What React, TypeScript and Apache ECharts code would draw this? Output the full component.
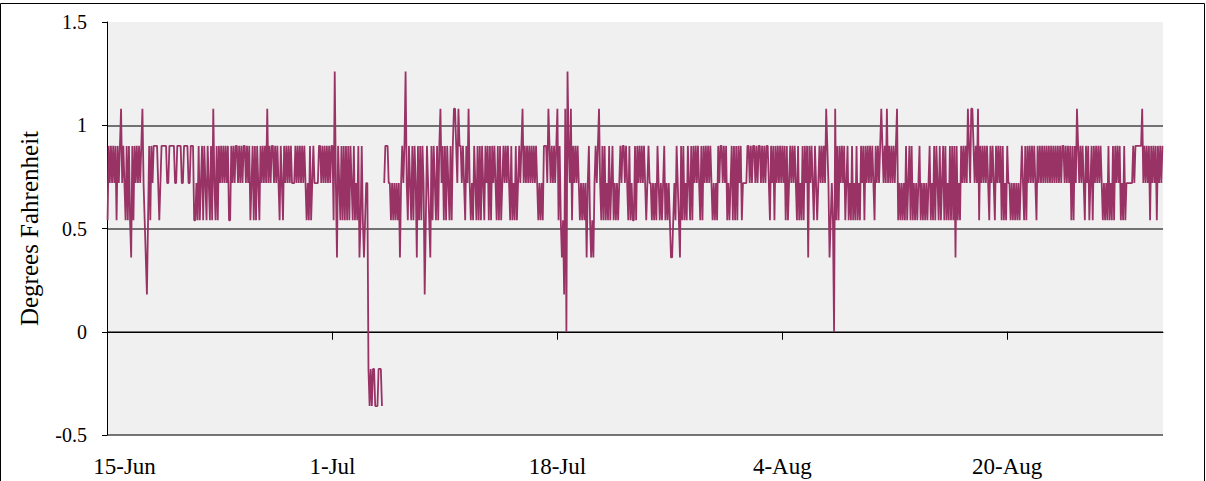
import React, { useEffect, useRef } from "react";
import * as echarts from "echarts";

// Temperature levels (°F) used by the sensor (0.1 °C steps); each code digit = index into this list
const levels = [-0.36, -0.18, 0, 0.18, 0.36, 0.54, 0.72, 0.9, 1.08, 1.26];

// Readings, one every 2 hours from 15-Jun 00:00, encoded as level indices ("-" = missing)
const seg01 = "5767676757" + "6786765757" + "5475767676" + "7865435757" + "6777765677" + "7776677777" + "6677776677" + "77667775";
const seg02 = "5657567576" + "5765758657" + "5767676767" + "5576767767" + "6767767675" + "6757576576" + "7676867677" + "67676576";
const seg03 = "5767676766" + "6767676767" + "6565756766" + "6677676767" + "6767759647" + "6575757575" + "7657565745" + "75456610";
const seg04 = "1011000111" + "0-67776656" + "5656564676" + "7965765757" + "6475757635" + "7654757657" + "5786757576" + "57578876";
const seg05 = "8776765768" + "6565765757" + "5765767575" + "7676575756" + "7676765756" + "5756767867" + "6767676767" + "65656577";
const seg06 = "7687676767" + "8575453829" + "7685767676" + "5656564675" + "4546767865" + "7575657567" + "5656567677" + "67657565";
const seg07 = "5757676767" + "6567665656" + "5765656756" + "5654456576" + "5475756576" + "5757676765" + "7576767676" + "56565767";
const seg08 = "7676756567" + "5757576756" + "6667767677" + "6767767676" + "7765767576" + "7676767575" + "6767676575" + "65757674";
const seg09 = "7676576567" + "6767687645" + "6528575767" + "6756756575" + "6575657675" + "7676767657" + "6767876768" + "67676767";
const seg10 = "8565656575" + "6757565656" + "7565656567" + "5657576575" + "6757565757" + "5747565767" + "6768768876" + "76857676";
const seg11 = "7676576765" + "7676757565" + "7665656565" + "6567657576" + "7676765767" + "6767676767" + "6767676767" + "76767675";
const seg12 = "7576876767" + "6576756757" + "6767676565" + "6575657576" + "7675657566" + "6666767777" + "7786767675" + "76767576767";

const segments = [seg01, seg02, seg03, seg04, seg05, seg06, seg07, seg08, seg09, seg10, seg11, seg12];

// Date tick labels, one every 200 samples (400 hours)
const tickLabels = ["15-Jun", "1-Jul", "18-Jul", "4-Aug", "20-Aug"];
const tickEvery = 200;
const tickIndices = [200, 400, 600, 800];

const monthNames = ["Jan", "Feb", "Mar", "Apr", "May", "Jun", "Jul", "Aug", "Sep", "Oct", "Nov", "Dec"];

const values: (number | null)[] = segments
  .join("")
  .split("")
  .map((c) => (c === "-" ? null : levels[Number(c)]));

const categories: string[] = values.map((_, i) => {
  const d = new Date(Date.UTC(2000, 5, 15) + i * 2 * 3600 * 1000);
  return `${d.getUTCDate()}-${monthNames[d.getUTCMonth()]} ${String(d.getUTCHours()).padStart(2, "0")}:00`;
});

const FONT = "'Liberation Serif', 'Times New Roman', serif";
const FS_X = 23;
const FS_Y = 20;
const FS_NAME = 25;

export default function App() {
  const ref = useRef<HTMLDivElement>(null);

  useEffect(() => {
    document.body.style.margin = "0";
    if (!ref.current) return;
    const chart = echarts.init(ref.current, undefined, { renderer: "svg" });
    chart.setOption({
      animation: false,
      backgroundColor: "#ffffff",
      grid: {
        left: 107,
        right: 43,
        top: 22,
        bottom: 46,
        show: true,
        backgroundColor: "#f0f0f0",
        borderWidth: 0,
      },
      graphic: [
        {
          type: "rect",
          silent: true,
          shape: { x: 0.5, y: 3.5, width: 1204, height: 520 },
          style: { fill: "none", stroke: "#000", lineWidth: 1 },
          z: -1,
        },
      ],
      xAxis: [
        {
          type: "category",
          data: categories,
          boundaryGap: true,
          axisLine: { show: true, onZero: true, lineStyle: { color: "#000", width: 1 } },
          axisTick: { show: false },
          axisLabel: { show: false },
          splitLine: { show: false },
        },
        {
          type: "category",
          data: categories,
          boundaryGap: true,
          position: "bottom",
          axisLine: { show: false, onZero: false },
          axisTick: { show: false },
          splitLine: { show: false },
          axisLabel: {
            show: true,
            interval: tickEvery - 1,
            margin: 20,
            color: "#000",
            fontFamily: FONT,
            fontSize: FS_X,
            formatter: (_v: string, idx: number) => {
              if (idx % tickEvery !== 0) return "";
              const lab = tickLabels[idx / tickEvery] ?? "";
              return idx === 0 ? `{first|${lab}}` : lab;
            },
            rich: {
              first: { padding: [0, 0, 0, 34], fontFamily: FONT, fontSize: FS_X, color: "#000" },
            },
          },
        },
      ],
      yAxis: {
        type: "value",
        min: -0.5,
        max: 1.5,
        interval: 0.5,
        name: "Degrees Fahrenheit",
        nameLocation: "middle",
        nameGap: 65,
        nameRotate: 90,
        nameTextStyle: { color: "#000", fontFamily: FONT, fontSize: FS_NAME },
        axisLine: { show: true, lineStyle: { color: "#000", width: 1 } },
        axisTick: { show: true, length: 5, lineStyle: { color: "#000" } },
        axisLabel: {
          color: "#000",
          fontFamily: FONT,
          fontSize: FS_Y,
          margin: 20,
          formatter: (v: number) => String(v),
        },
        splitLine: {
          show: true,
          lineStyle: {
            color: ["#484848", "#484848", "#484848", "#484848", "rgba(0,0,0,0)"],
            width: 1.5,
          },
        },
      },
      series: [
        {
          type: "line",
          xAxisIndex: 0,
          data: values,
          showSymbol: false,
          symbol: "none",
          connectNulls: false,
          lineStyle: { color: "#993366", width: 1.8 },
          itemStyle: { color: "#993366" },
          z: 3,
        },
        {
          // date tick marks on the zero line
          type: "custom",
          xAxisIndex: 0,
          data: tickIndices.map((i) => [i, 0]),
          silent: true,
          z: 4,
          renderItem: (_params: any, api: any) => {
            const p = api.coord([api.value(0), 0]);
            const band = api.size([1, 0])[0];
            const x = Math.round(p[0] - band / 2) + 0.5;
            return {
              type: "line",
              shape: { x1: x, y1: p[1], x2: x, y2: p[1] + 8 },
              style: { stroke: "#000", lineWidth: 1 },
            };
          },
        },
      ],
    });
    return () => chart.dispose();
  }, []);

  return <div ref={ref} style={{ width: 1206, height: 481 }} />;
}
